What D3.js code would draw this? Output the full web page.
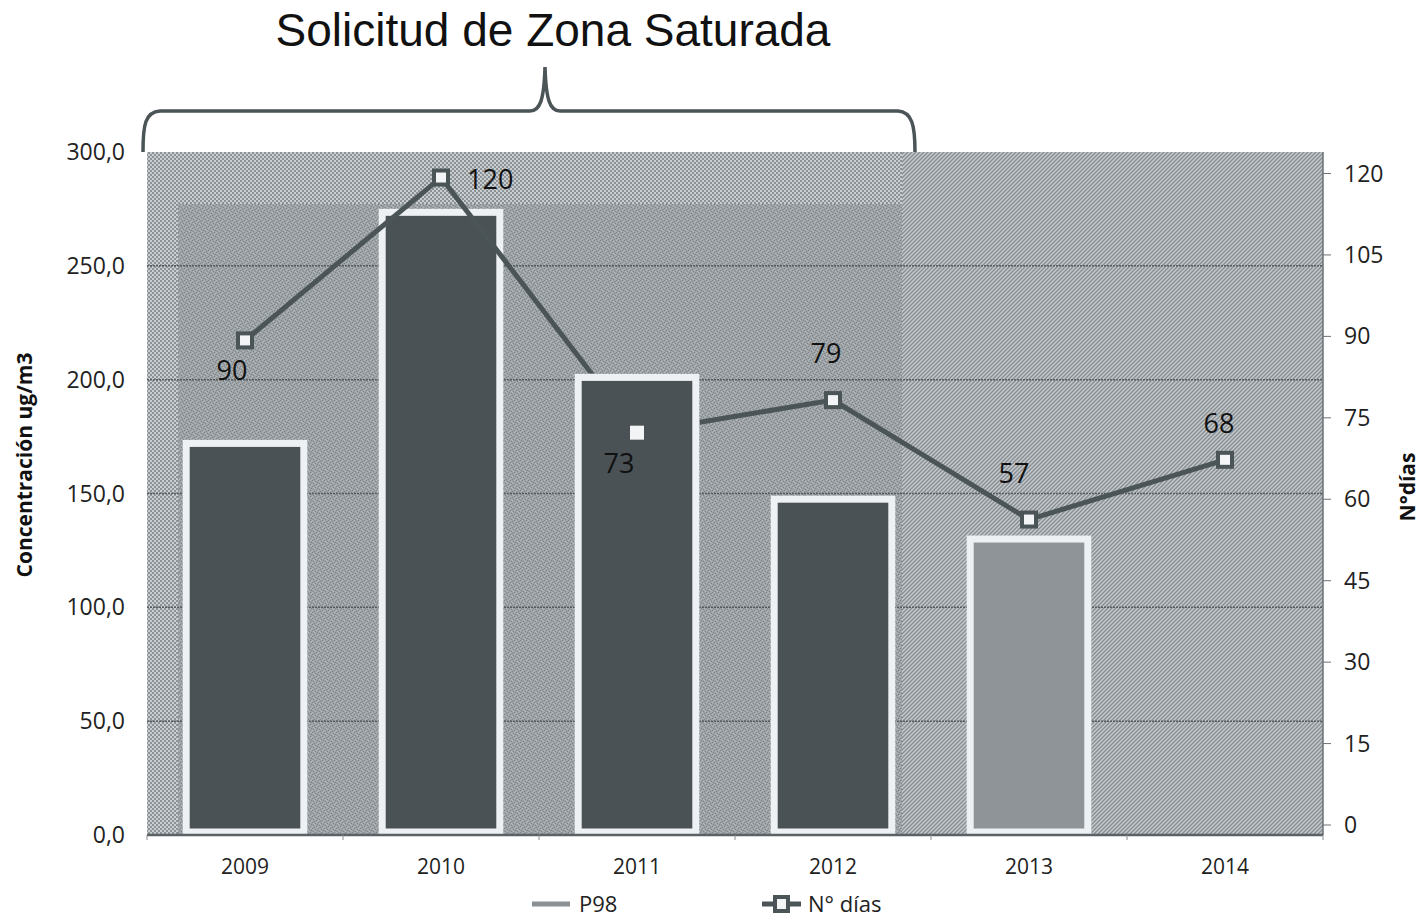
<!DOCTYPE html>
<html><head><meta charset="utf-8">
<script src="https://cdn.jsdelivr.net/npm/d3@7"></script>
<style>body{margin:0;background:#fff;} svg{display:block;}</style>
</head><body><svg id="c" width="1422" height="919"></svg>
<script>
const years = ["2009","2010","2011","2012","2013","2014"];
const p98 = [172, 273.5, 201, 147.5, 130, null];
const dias = [90, 120, 73, 79, 57, 68];
const leftTicks = [0,50,100,150,200,250,300];
const rightTicks = [0,15,30,45,60,75,90,105,120];
const title = "Solicitud de Zona Saturada";
const leftTitle = "Concentración ug/m3";
const rightTitle = "N°días";
const legendLabels = ["P98","N° días"];

const svg = d3.select("#c");
const W=1422,H=919;
const plot = {l:147, r:1323, t:152, b:835};
const x = d3.scaleBand().domain(years).range([plot.l, plot.r]);
const yL = d3.scaleLinear().domain([0,300]).range([plot.b, plot.t]);
const yR = d3.scaleLinear().domain([0,124.7]).range([829, plot.t]);
const dark = "#4b5457";
const FONT = "'Open Sans', sans-serif";

const defs = svg.append("defs");
const ck = defs.append("pattern").attr("id","checker").attr("width",4).attr("height",4).attr("patternUnits","userSpaceOnUse");
ck.append("rect").attr("width",4).attr("height",4).attr("fill","#c8cdd0");
ck.append("rect").attr("width",2).attr("height",2).attr("fill","#8c9296");
ck.append("rect").attr("x",2).attr("y",2).attr("width",2).attr("height",2).attr("fill","#8c9296");
const dg = defs.append("pattern").attr("id","diag").attr("width",4).attr("height",4).attr("patternUnits","userSpaceOnUse");
dg.append("rect").attr("width",4).attr("height",4).attr("fill","#c6cbce");
dg.append("path").attr("d","M-1,1 L1,-1 M0,4 L4,0 M3,5 L5,3").attr("stroke","#888e92").attr("stroke-width",1.5);
const sp = defs.append("pattern").attr("id","speck").attr("width",6).attr("height",6).attr("patternUnits","userSpaceOnUse");
sp.append("rect").attr("width",6).attr("height",6).attr("fill","#9ba1a4");
[[0,0],[3,1],[1,3],[4,4],[5,2],[2,5]].forEach(([a,b])=>sp.append("rect").attr("x",a).attr("y",b).attr("width",1).attr("height",1).attr("fill","#7f8589"));
[[1,1],[4,0],[0,4],[3,3],[5,5],[2,2]].forEach(([a,b])=>sp.append("rect").attr("x",a).attr("y",b).attr("width",1).attr("height",1).attr("fill","#b3b8bb"));

svg.append("rect").attr("x",plot.l).attr("y",plot.t).attr("width",902-plot.l).attr("height",plot.b-plot.t).attr("fill","url(#checker)");
svg.append("rect").attr("x",902).attr("y",plot.t).attr("width",plot.r-902).attr("height",plot.b-plot.t).attr("fill","url(#diag)");
svg.append("rect").attr("x",178).attr("y",204).attr("width",902-178).attr("height",plot.b-204).attr("fill","url(#speck)");

svg.append("g").selectAll("line").data(leftTicks.filter(d=>d>0&&d<300)).join("line")
  .attr("x1",plot.l).attr("x2",plot.r).attr("y1",d=>yL(d)).attr("y2",d=>yL(d))
  .attr("stroke","#545c60").attr("stroke-width",1.5).attr("stroke-dasharray","2,1");

svg.append("line").attr("x1",plot.r).attr("x2",plot.r).attr("y1",plot.t).attr("y2",plot.b).attr("stroke","#6a7276").attr("stroke-width",1.5);

const bw = x.bandwidth()*0.6;
const barData = years.map((y,i)=>({y, v:p98[i]})).filter(d=>d.v!=null);
const barFill = d => d.y==="2013" ? "#8e9497" : "#4a5255";
svg.append("g").selectAll("rect").data(barData).join("rect")
  .attr("x",d=>x(d.y)+x.bandwidth()/2-bw/2).attr("y",d=>yL(d.v))
  .attr("width",bw).attr("height",d=>plot.b-3-yL(d.v))
  .attr("fill",barFill).attr("stroke","#eef1f3").attr("stroke-width",7);

svg.append("line").attr("x1",plot.l).attr("x2",plot.r).attr("y1",plot.b).attr("y2",plot.b).attr("stroke","#5a6266").attr("stroke-width",2.5);
svg.append("g").selectAll("line").data(years.concat(["end"])).join("line")
  .attr("x1",(d,i)=>plot.l+i*x.step()).attr("x2",(d,i)=>plot.l+i*x.step())
  .attr("y1",plot.b).attr("y2",plot.b+5).attr("stroke","#8a9094").attr("stroke-width",1);
svg.append("g").selectAll("text").data(years).join("text")
  .attr("x",d=>x(d)+x.bandwidth()/2).attr("y",874).attr("text-anchor","middle")
  .attr("font-family",FONT).attr("font-size",21).attr("fill","#222").text(d=>d);

svg.append("g").selectAll("text").data(leftTicks).join("text")
  .attr("x",125).attr("y",d=>yL(d)+8).attr("text-anchor","end")
  .attr("font-family",FONT).attr("font-size",23).attr("fill","#222").text(d=>d.toFixed(1).replace(".",","));
svg.append("g").selectAll("line").data(rightTicks).join("line")
  .attr("x1",plot.r).attr("x2",plot.r+8).attr("y1",d=>yR(d)-4).attr("y2",d=>yR(d)-4).attr("stroke","#6a7276");
svg.append("g").selectAll("text").data(rightTicks).join("text")
  .attr("x",1344).attr("y",d=>yR(d)+4).attr("text-anchor","start")
  .attr("font-family",FONT).attr("font-size",23).attr("fill","#222").text(d=>d);

svg.append("text").attr("transform","translate(32,465) rotate(-90)").attr("text-anchor","middle")
  .attr("font-family",FONT).attr("font-weight","bold").attr("font-size",21).attr("fill","#111").text(leftTitle);
svg.append("text").attr("transform","translate(1415,487) rotate(-90)").attr("text-anchor","middle")
  .attr("font-family",FONT).attr("font-weight","bold").attr("font-size",21).attr("fill","#111").text(rightTitle);

const mask = defs.append("mask").attr("id","lm").attr("maskUnits","userSpaceOnUse").attr("x",0).attr("y",0).attr("width",W).attr("height",H);
mask.append("rect").attr("width",W).attr("height",H).attr("fill","#fff");
mask.append("rect").attr("x",x("2011")+x.bandwidth()/2-bw/2-4).attr("y",yL(201)-4).attr("width",bw+8).attr("height",plot.b-yL(201)).attr("fill","#000");
const pts = years.map((y,i)=>({y, v:dias[i], cx:x(y)+x.bandwidth()/2, cy:yR(dias[i])}));
svg.append("path").datum(pts).attr("d",d3.line().x(d=>d.cx).y(d=>d.cy))
  .attr("fill","none").attr("stroke",dark).attr("stroke-width",5).attr("mask","url(#lm)");
svg.append("g").selectAll("rect").data(pts).join("rect")
  .attr("x",d=>d.cx-7).attr("y",d=>d.cy-7).attr("width",14).attr("height",14)
  .attr("fill","#f2f4f6").attr("stroke",d=>d.y==="2011"?"none":dark).attr("stroke-width",4);

const labelPos = {"2009":[-13,40,"middle"],"2010":[26,11,"start"],"2011":[-18,40,"middle"],"2012":[-7,-37,"middle"],"2013":[-15,-37,"middle"],"2014":[-6,-27,"middle"]};
svg.append("g").selectAll("text").data(pts).join("text")
  .attr("x",d=>d.cx+labelPos[d.y][0]).attr("y",d=>d.cy+labelPos[d.y][1])
  .attr("text-anchor",d=>labelPos[d.y][2])
  .attr("font-family",FONT).attr("font-size",27).attr("fill","#111").text(d=>d.v);

svg.append("line").attr("x1",532).attr("x2",570).attr("y1",904).attr("y2",904).attr("stroke","#8a9094").attr("stroke-width",5);
svg.append("text").attr("x",579).attr("y",912).attr("font-family",FONT).attr("font-size",22).attr("fill","#222").text(legendLabels[0]);
svg.append("line").attr("x1",762).attr("x2",801).attr("y1",904).attr("y2",904).attr("stroke",dark).attr("stroke-width",5);
svg.append("rect").attr("x",775).attr("y",897).attr("width",13).attr("height",14).attr("fill","#f2f4f6").attr("stroke",dark).attr("stroke-width",4);
svg.append("text").attr("x",808).attr("y",912).attr("font-family",FONT).attr("font-size",22).attr("fill","#222").text(legendLabels[1]);

svg.append("path")
  .attr("d","M143,152 C143,125 145,112 160,111 L530,111 C540,111 544,100 545,67 C546,100 550,111 560,111 L898,111 C912,112 915,125 915,152")
  .attr("fill","none").attr("stroke",dark).attr("stroke-width",3.5);

svg.append("text").attr("x",553).attr("y",46).attr("text-anchor","middle")
  .attr("font-family","'Liberation Sans', Arial, sans-serif").attr("font-size",46).attr("fill","#111").text(title);
</script></body></html>
